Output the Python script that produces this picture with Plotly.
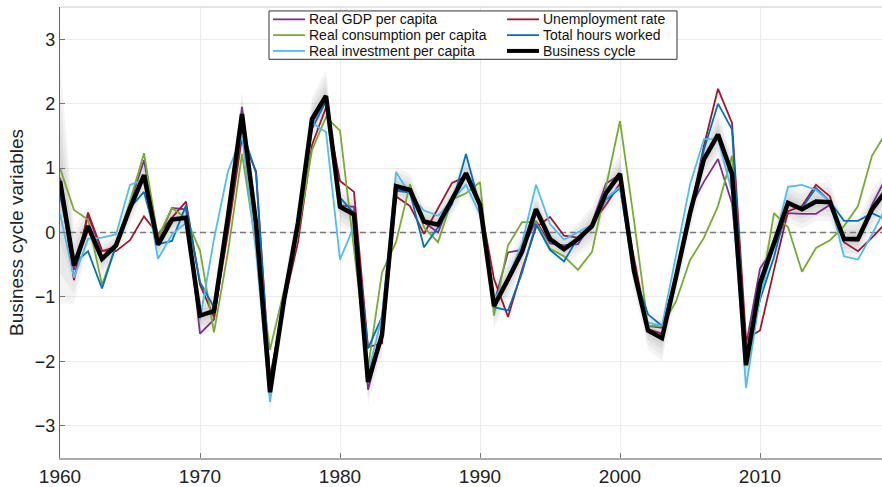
import plotly.graph_objects as go

years = list(range(1960, 2020))

gdp = [0.85, -0.58, 0.26, -0.29, -0.22, 0.44, 1.12, -0.10, 0.38, 0.36,
       -1.57, -1.35, 0.10, 1.95, 0.00, -2.40, -1.05, 0.05, 1.70, 2.07,
       0.42, 0.40, -2.44, -1.60, 0.66, 0.64, 0.16, 0.00, 0.55, 0.87,
       0.42, -1.10, -0.31, -0.27, 0.18, -0.17, -0.20, -0.18, 0.15, 0.76,
       0.90, -0.60, -1.45, -1.48, -0.69, 0.38, 0.79, 1.14, 0.45, -1.75,
       -0.56, -0.23, 0.30, 0.29, 0.29, 0.43, -0.12, -0.13, 0.43, 0.85]

unemployment = [0.75, -0.74, 0.31, -0.28, -0.29, -0.12, 0.25, -0.03, 0.23, 0.48,
                -0.81, -1.31, 0.00, 1.48, 0.95, -2.25, -1.10, -0.15, 1.36, 1.94,
                0.80, 0.63, -1.78, -1.72, 0.56, 0.41, -0.02, 0.38, 0.77, 0.87,
                0.46, -0.72, -1.31, -0.58, 0.08, 0.24, -0.05, -0.08, 0.13, 0.43,
                0.76, -0.40, -1.50, -1.57, -0.72, 0.30, 1.35, 2.23, 1.70, -1.65,
                -1.52, -0.58, 0.33, 0.41, 0.74, 0.56, -0.15, -0.29, -0.08, 0.15]

consumption = [1.00, 0.35, 0.20, -0.81, -0.20, 0.48, 1.23, -0.08, 0.38, 0.22,
               -0.28, -1.55, -0.30, 1.22, -0.20, -1.82, -0.90, 0.00, 1.28, 1.79,
               1.58, -0.25, -2.10, -0.62, -0.15, 0.75, 0.08, -0.15, 0.51, 0.61,
               0.78, -1.29, -0.20, 0.16, 0.16, -0.25, -0.37, -0.58, -0.30, 0.71,
               1.73, 0.19, -1.45, -1.45, -1.07, -0.43, -0.08, 0.41, 1.19, -1.85,
               -0.99, 0.30, 0.08, -0.61, -0.24, -0.12, 0.10, 0.41, 1.19, 1.55]

hours = [0.58, -0.48, -0.29, -0.87, -0.20, 0.38, 0.63, -0.18, -0.13, 0.42,
         -0.77, -1.16, 0.30, 1.60, 0.92, -2.30, -1.05, 0.10, 1.61, 2.04,
         0.54, 0.30, -1.80, -1.31, 0.65, 0.62, -0.23, 0.08, 0.44, 1.22,
         0.40, -1.16, -1.21, -0.63, 0.13, -0.27, -0.45, -0.08, 0.12, 0.51,
         0.69, -0.63, -1.27, -1.45, -0.69, 0.30, 1.29, 2.00, 1.60, -2.00,
         -1.04, -0.38, 0.46, 0.38, 0.69, 0.48, 0.18, 0.18, 0.30, 0.20]

investment = [0.29, -0.70, -0.10, -0.08, -0.03, 0.74, 0.82, -0.41, -0.03, 0.15,
              -1.35, -0.10, 0.95, 1.50, -0.30, -2.63, -1.00, 0.25, 1.70, 1.56,
              -0.42, 0.10, -2.20, -1.30, 0.94, 0.59, 0.34, 0.26, 0.50, 0.74,
              0.28, -1.04, -0.70, -0.17, 0.74, 0.13, -0.11, 0.00, 0.12, 0.53,
              0.71, -0.63, -1.40, -1.45, -0.38, 0.74, 1.45, 1.45, 0.63, -2.41,
              -0.99, -0.18, 0.71, 0.74, 0.66, 0.48, -0.37, -0.42, -0.03, 0.40]

cycle = [0.80, -0.51, 0.10, -0.41, -0.20, 0.38, 0.89, -0.19, 0.20, 0.23,
         -1.29, -1.22, 0.25, 1.84, 0.15, -2.48, -1.05, 0.15, 1.76, 2.12,
         0.40, 0.28, -2.32, -1.59, 0.72, 0.66, 0.17, 0.12, 0.51, 0.92,
         0.43, -1.14, -0.73, -0.30, 0.36, -0.10, -0.26, -0.10, 0.10, 0.61,
         0.91, -0.60, -1.52, -1.64, -0.69, 0.30, 1.14, 1.52, 0.91, -2.06,
         -0.79, -0.15, 0.46, 0.36, 0.48, 0.47, -0.10, -0.10, 0.36, 0.65]

# half-width of the outermost posterior band around the business cycle
cycle_spread = [1.90, 0.60, 0.30, 0.25, 0.20, 0.25, 0.30, 0.25, 0.25, 0.25,
                0.30, 0.30, 0.30, 0.35, 0.30, 0.35, 0.30, 0.30, 0.35, 0.40,
                0.30, 0.30, 0.35, 0.30, 0.30, 0.25, 0.25, 0.25, 0.25, 0.30,
                0.30, 0.35, 0.30, 0.30, 0.25, 0.25, 0.25, 0.25, 0.30, 0.30,
                0.30, 0.30, 0.30, 0.35, 0.30, 0.30, 0.30, 0.35, 0.30, 0.35,
                0.30, 0.30, 0.30, 0.30, 0.30, 0.30, 0.30, 0.30, 0.30, 0.30]

band_levels = [1.0, 0.75, 0.5, 0.3]

x_ticks = [1960, 1970, 1980, 1990, 2000, 2010]
y_ticks = [-3, -2, -1, 0, 1, 2, 3]

series = [
    ("Real GDP per capita", gdp, "#7E2F8E", 1.8),
    ("Unemployment rate", unemployment, "#A2142F", 1.8),
    ("Real consumption per capita", consumption, "#77AC30", 1.8),
    ("Total hours worked", hours, "#0072BD", 1.8),
    ("Real investment per capita", investment, "#4DBEEE", 1.8),
    ("Business cycle", cycle, "#000000", 4.5),
]

# figure geometry (pixels)
W, H = 882, 487
ML, MR, MT, MB = 60, 0, 7, 23
PW, PH = W - ML - MR, H - MT - MB
X_END = 1960 + PW / 14.0   # 14 px per year


def px_x(p):
    return (p - ML) / PW


def px_y(p):
    return 1 - (p - MT) / PH


fig = go.Figure()

# nested grey bands, drawn first so the lines sit on top
for lev in band_levels:
    lo = [c - lev * s for c, s in zip(cycle, cycle_spread)]
    hi = [c + lev * s for c, s in zip(cycle, cycle_spread)]
    fig.add_trace(go.Scatter(x=years, y=lo, mode="lines", line=dict(width=0),
                             showlegend=False, hoverinfo="skip"))
    fig.add_trace(go.Scatter(x=years, y=hi, mode="lines", line=dict(width=0),
                             fill="tonexty", fillcolor="rgba(0,0,0,0.045)",
                             showlegend=False, hoverinfo="skip"))

# dashed zero reference line
fig.add_trace(go.Scatter(x=[years[0], years[-1]], y=[0, 0], mode="lines",
                         line=dict(color="#7a7a7a", width=1.6, dash="6px,4px"),
                         showlegend=False, hoverinfo="skip"))

for name, vals, col, lw in series:
    fig.add_trace(go.Scatter(x=years, y=vals, mode="lines", name=name,
                             showlegend=False, line=dict(color=col, width=lw)))

shapes = [
    dict(type="line", xref="paper", yref="paper", x0=0, x1=1, y0=1, y1=1,
         line=dict(color="#cccccc", width=1)),
    # legend frame
    dict(type="rect", xref="paper", yref="paper",
         x0=px_x(269), x1=px_x(677), y0=px_y(60), y1=px_y(11),
         fillcolor="white", line=dict(color="#333333", width=1), layer="above"),
]

annotations = []
font_family = "Liberation Sans, Arial, sans-serif"

# two-column legend, filled row by row
col_sym_x = [273, 507]
row_y = [19.5, 35.5, 51.5]
for i, (name, vals, col, lw) in enumerate(series):
    c, r = i % 2, i // 2
    x0 = col_sym_x[c]
    yy = px_y(row_y[r])
    shapes.append(dict(type="line", xref="paper", yref="paper",
                       x0=px_x(x0), x1=px_x(x0 + 32), y0=yy, y1=yy,
                       line=dict(color=col, width=1.8 if lw < 3 else 4),
                       layer="above"))
    annotations.append(dict(xref="paper", yref="paper", x=px_x(x0 + 35), y=yy,
                            text=name, showarrow=False, xanchor="left",
                            yanchor="middle", borderpad=0,
                            font=dict(family=font_family, size=14, color="#111111")))

fig.update_layout(
    width=W, height=H,
    margin=dict(l=ML, r=MR, t=MT, b=MB),
    paper_bgcolor="white", plot_bgcolor="white",
    font=dict(family=font_family, color="#222222"),
    showlegend=False,
    shapes=shapes,
    annotations=annotations,
    xaxis=dict(range=[1960, X_END], tickvals=x_ticks, showgrid=True,
               gridcolor="#ebebeb", gridwidth=1, zeroline=False,
               showline=True, linecolor="#aaaaaa", linewidth=1.5,
               ticks="inside", ticklen=5, tickcolor="#777777",
               tickfont=dict(size=19, color="#222222")),
    yaxis=dict(range=[-3.5, 3.5], tickvals=y_ticks, showgrid=True,
               gridcolor="#ebebeb", gridwidth=1, zeroline=False,
               showline=True, linecolor="#666666", linewidth=1.2,
               ticks="inside", ticklen=5, tickcolor="#777777",
               tickfont=dict(size=18, color="#222222"),
               title=dict(text="Business cycle variables", standoff=6,
                          font=dict(size=19, color="#222222"))),
)

fig.write_html("out.html")
